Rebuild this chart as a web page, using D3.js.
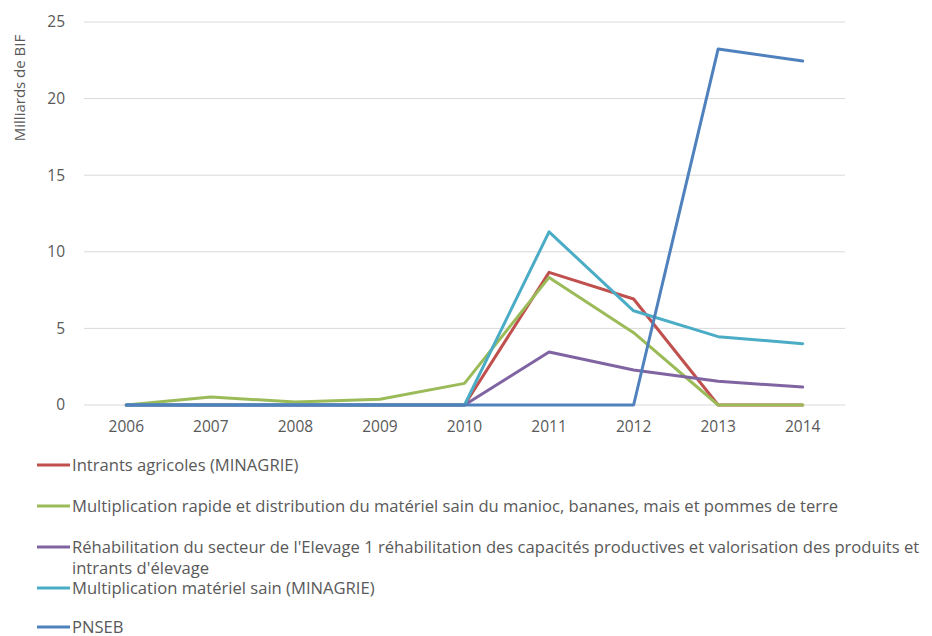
<!DOCTYPE html>
<html>
<head>
<meta charset="utf-8">
<script src="https://cdn.jsdelivr.net/npm/d3@7"></script>
<style>
  body { margin: 0; background: #fff; }
  svg text { font-family: "Open Sans", "Noto Sans", sans-serif; fill: #595959; }
</style>
</head>
<body>
<svg id="chart" width="932" height="636"></svg>
<script>
// years along the x axis
const years = ["2006", "2007", "2008", "2009", "2010", "2011", "2012", "2013", "2014"];

// series names (legend order) and their colours
const seriesNames = [
    "Intrants agricoles (MINAGRIE)",
    "Multiplication rapide et distribution du matériel sain du manioc, bananes, mais et pommes de terre",
    "Réhabilitation du secteur de l'Elevage 1 réhabilitation des capacités productives et valorisation des produits et intrants d'élevage",
    "Multiplication matériel sain (MINAGRIE)",
    "PNSEB"
];
const seriesColors = ["#C0504D", "#9BBB59", "#8064A2", "#4BACC6", "#4F81BD"];

// values in billions of BIF
const intrants     = [0, 0, 0, 0, 0, 8.66, 6.92, 0, 0];
const multRapide   = [0, 0.52, 0.2, 0.38, 1.41, 8.33, 4.72, 0, 0];
const rehab        = [0, 0, 0, 0, 0, 3.46, 2.28, 1.55, 1.17];
const multSain     = [0, 0, 0, 0, 0, 11.3, 6.15, 4.46, 4.0];
const pnseb        = [0, 0, 0, 0, 0, 0, 0, 23.24, 22.45];

const yTicks = [0, 5, 10, 15, 20, 25];

const seriesValues = [intrants, multRapide, rehab, multSain, pnseb];

const margin = {left: 84, right: 87, top: 22, bottom: 231};
const width = 932, height = 636;

const svg = d3.select("#chart");

const x = d3.scaleBand().domain(years).range([margin.left, width - margin.right]);
const y = d3.scaleLinear().domain([0, 25]).range([height - margin.bottom, margin.top]);

// gridlines
svg.append("g")
    .selectAll("line")
    .data(yTicks)
    .enter().append("line")
    .attr("x1", margin.left)
    .attr("x2", width - margin.right)
    .attr("y1", d => y(d))
    .attr("y2", d => y(d))
    .attr("stroke", "#D9D9D9")
    .attr("stroke-width", 1);

// y tick labels
svg.append("g")
    .selectAll("text")
    .data(yTicks)
    .enter().append("text")
    .attr("x", 65)
    .attr("y", d => y(d))
    .attr("dy", "0.35em")
    .attr("text-anchor", "end")
    .style("font-size", "15.5px")
    .text(d => d);

// x tick labels
svg.append("g")
    .selectAll("text")
    .data(years)
    .enter().append("text")
    .attr("x", d => x(d) + x.bandwidth() / 2)
    .attr("y", y(0) + 27)
    .attr("text-anchor", "middle")
    .style("font-size", "15.5px")
    .text(d => d);

// y axis title
svg.append("text")
    .attr("transform", "translate(25," + 88 + ") rotate(-90)")
    .attr("text-anchor", "middle")
    .style("font-size", "15px")
    .text("Milliards de BIF");

const line = d3.line()
    .x((d, i) => x(years[i]) + x.bandwidth() / 2)
    .y(d => y(d));

svg.append("g")
    .selectAll("path")
    .data(seriesValues)
    .enter().append("path")
    .attr("d", d => line(d))
    .attr("fill", "none")
    .attr("stroke", (d, i) => seriesColors[i])
    .attr("stroke-width", 3)
    .attr("stroke-linejoin", "round")
    .attr("stroke-linecap", "round");

// legend, one item per row, long labels wrap
const legendY = [465, 506, 547, 588, 627];
const legend = svg.append("g");
seriesNames.forEach(function(name, i) {
    legend.append("line")
        .attr("x1", 37).attr("x2", 70)
        .attr("y1", legendY[i]).attr("y2", legendY[i])
        .attr("stroke", seriesColors[i])
        .attr("stroke-width", 3);
    let t = legend.append("text")
        .attr("x", 72)
        .attr("y", legendY[i])
        .attr("dy", "0.35em")
        .style("font-size", "16.6px");
    let words = name.split(" ");
    let tspan = t.append("tspan").attr("x", 72);
    let cur = [];
    words.forEach(function(w) {
        cur.push(w);
        tspan.text(cur.join(" "));
        if (tspan.node().getComputedTextLength() > 862 && cur.length > 1) {
            cur.pop();
            tspan.text(cur.join(" "));
            cur = [w];
            tspan = t.append("tspan").attr("x", 72).attr("dy", "1.25em").text(w);
        }
    });
});
</script>
</body>
</html>
